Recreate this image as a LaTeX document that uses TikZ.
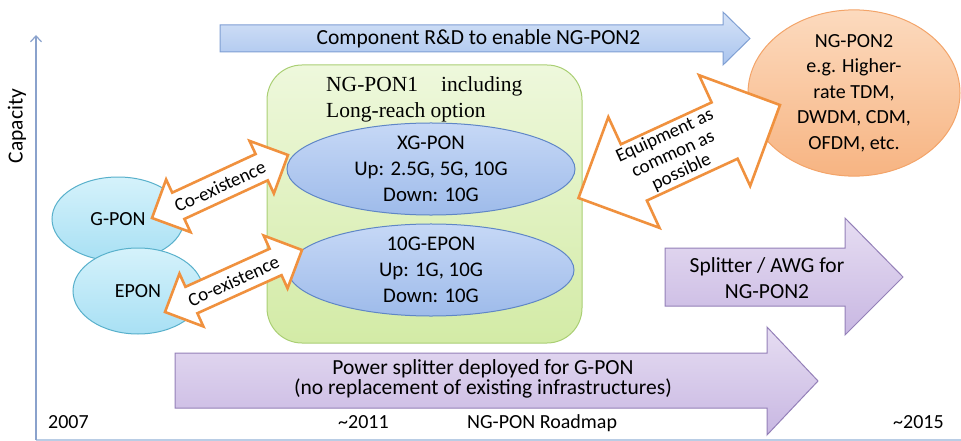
\documentclass[tikz,border=0pt]{standalone}
\usepackage{fontspec}
\setmainfont{Carlito}
\newfontfamily\serifface{Liberation Serif}
\usetikzlibrary{calc,shapes.geometric,arrows.meta}

\definecolor{axisblue}{HTML}{8AA2CC}
\definecolor{baseblue}{HTML}{B9CDE5}
\definecolor{rdtop}{HTML}{D6E3F7}
\definecolor{rdbot}{HTML}{A9C4EE}
\definecolor{rdline}{HTML}{7F9FD3}
\definecolor{elltop}{HTML}{C6D8F6}
\definecolor{ellbot}{HTML}{9EBBEA}
\definecolor{ellline}{HTML}{5F86C6}
\definecolor{grtop}{HTML}{EEF8DC}
\definecolor{grbot}{HTML}{D3EBA6}
\definecolor{grline}{HTML}{AACF74}
\definecolor{cytop}{HTML}{D5F2FB}
\definecolor{cybot}{HTML}{A8E0F4}
\definecolor{cyline}{HTML}{58B0CB}
\definecolor{ortop}{HTML}{FCDABE}
\definecolor{orbot}{HTML}{F7B482}
\definecolor{orline}{HTML}{F3A469}
\definecolor{putop}{HTML}{E6DDF2}
\definecolor{pubot}{HTML}{C8B7E2}
\definecolor{puline}{HTML}{9480B8}
\definecolor{coexline}{HTML}{F0913E}

\tikzset{
  txt/.style={font=\fontsize{20}{25.5}\selectfont, text=black, align=center, inner sep=0pt},
  bigtxt/.style={font=\fontsize{21.5}{26}\selectfont, text=black, align=center, inner sep=0pt},
  elltxt/.style={font=\fontsize{20.8}{25.7}\selectfont, text=black, align=center, inner sep=0pt},
  smalltxt/.style={font=\fontsize{19}{20}\selectfont, text=black, align=center, inner sep=0pt},
  blueell/.style={ellipse, draw=ellline, line width=1pt, top color=elltop, bottom color=ellbot, elltxt},
  cyanell/.style={ellipse, draw=cyline, line width=1pt, top color=cytop, bottom color=cybot, txt},
  rdarrow/.style={draw=rdline, line width=1pt, top color=rdtop, bottom color=rdbot},
  puarrow/.style={draw=puline, line width=1pt, top color=putop, bottom color=pubot},
  blockarrow/.style={draw=coexline, fill=white, line width=2.6pt, line join=miter},
}

% double-headed block arrow between two tips:
% #1,#2 tips, #3 head length, #4 head half-width, #5 shaft half-width (all in pt)
\newcommand\blockdouble[5]{%
  \path let \p1=($(#2)-(#1)$), \n1={atan2(\y1,\x1)}, \n2={veclen(\x1,\y1)} in
    \pgfextra{\xdef\bdang{\n1}\xdef\bdlen{\n2}};
  \begin{scope}[shift={(#1)}, rotate=\bdang, x=1pt, y=1pt]
    \path[blockarrow] (0,0) -- (#3,#4) -- (#3,#5) -- (\bdlen-#3,#5) -- (\bdlen-#3,#4)
      -- (\bdlen,0) -- (\bdlen-#3,-#4) -- (\bdlen-#3,-#5) -- (#3,-#5) -- (#3,-#4) -- cycle;
  \end{scope}
}

\begin{document}
\begin{tikzpicture}[x=1pt,y=-1pt]
\useasboundingbox (0,0) rectangle (961,441);

% axes
\coordinate (origin) at (36,440);
\coordinate (ytop) at (36,35);
\coordinate (xend) at (961,440);
\draw[baseblue, line width=1.5pt] (origin) -- (xend);
\draw[axisblue, line width=1.2pt, -{Straight Barb[length=6pt,width=11pt]}] (origin) -- (ytop);
\node[bigtxt, rotate=90] (capacity) at (17,126) {Capacity};

% NG-PON1 container
\node[draw=grline, line width=1pt, top color=grtop, bottom color=grbot,
      rounded corners=35pt, minimum width=315pt, minimum height=278pt, inner sep=0pt]
      (ngpon1) at (424.5,204) {};
\node[anchor=base west, inner sep=0pt, font=\serifface\fontsize{21.5}{26}\selectfont]
      (ng1a) at (326,92) {NG-PON1\hspace{23pt}including};
\node[anchor=base west, inner sep=0pt, font=\serifface\fontsize{21.5}{26}\selectfont]
      (ng1b) at (326,118) {Long-reach option};

% component R&D arrow
\path[rdarrow] (220,25) -- (723,25) -- (723,12) -- (750,38.5) -- (723,65) -- (723,52) -- (220,52) -- cycle;
\node[bigtxt] (rd) at (478.5,39) {Component R\&D to enable NG-PON2};

% PON generations
\node[blueell, minimum width=288pt, minimum height=84pt] (xgpon) at (431,169)
      {XG-PON\\Up: 2.5G, 5G, 10G\\Down: 10G};
\node[blueell, minimum width=286pt, minimum height=86pt] (tgepon) at (431,270)
      {10G-EPON\\Up: 1G, 10G\\Down: 10G};
\node[cyanell, minimum width=132pt, minimum height=84pt] (gpon) at (118,219) {G-PON};
\node[cyanell, minimum width=130pt, minimum height=86pt] (epon) at (138,291) {EPON};
\node[ellipse, draw=orline, line width=1pt, top color=ortop, bottom color=orbot, txt,
      minimum width=212pt, minimum height=146pt] (ngpon2) at (854,93)
      {NG-PON2\\e.g. Higher-\\rate TDM,\\DWDM, CDM,\\OFDM, etc.};

% splitter arrows
\path[puarrow] (665,248) -- (845,248) -- (845,218) -- (903,277) -- (845,335) -- (845,306) -- (665,306) -- cycle;
\node[bigtxt] (awg) at (767,278) {Splitter / AWG for\\NG-PON2};
\path[puarrow] (175,353) -- (767,353) -- (767,327) -- (818,381) -- (767,435) -- (767,408) -- (175,408) -- cycle;
\node[bigtxt, font=\fontsize{21.5}{20}\selectfont] (psplit) at (483,379)
      {Power splitter deployed for G-PON\\(no replacement of existing infrastructures)};

% co-existence and equipment arrows
\coordinate (coA1) at ($(gpon.center)+(34,-1)$);
\coordinate (coA2) at ($(xgpon.center)+(-143,-14)$);
\coordinate (coB1) at ($(epon.center)+(27,21)$);
\coordinate (coB2) at ($(tgepon.center)+(-129,-20)$);
\coordinate (eqA) at ($(ngpon1.east)+(-4,-6)$);
\coordinate (eqB) at ($(ngpon2.center)+(-74,12)$);

\blockdouble{coA1}{coA2}{29}{29}{14.5}
\path (coA1) -- node[smalltxt, sloped] (coxa) {Co-existence} (coA2);
\blockdouble{coB1}{coB2}{29}{29}{14.5}
\path (coB1) -- node[smalltxt, sloped] (coxb) {Co-existence} (coB2);
\blockdouble{eqA}{eqB}{61}{61}{31}
\path (eqA) -- node[smalltxt, sloped, pos=0.47] (equip) {Equipment as\\common as\\possible} (eqB);

% time axis labels
\node[txt, anchor=base west] (y2007) at (48,428) {2007};
\node[txt, anchor=base west] (y2011) at (338,428) {\textasciitilde2011};
\node[txt, anchor=base west] (roadmap) at (467,428) {NG-PON Roadmap};
\node[txt, anchor=base west] (y2015) at (893,428) {\textasciitilde2015};
\end{tikzpicture}
\end{document}
